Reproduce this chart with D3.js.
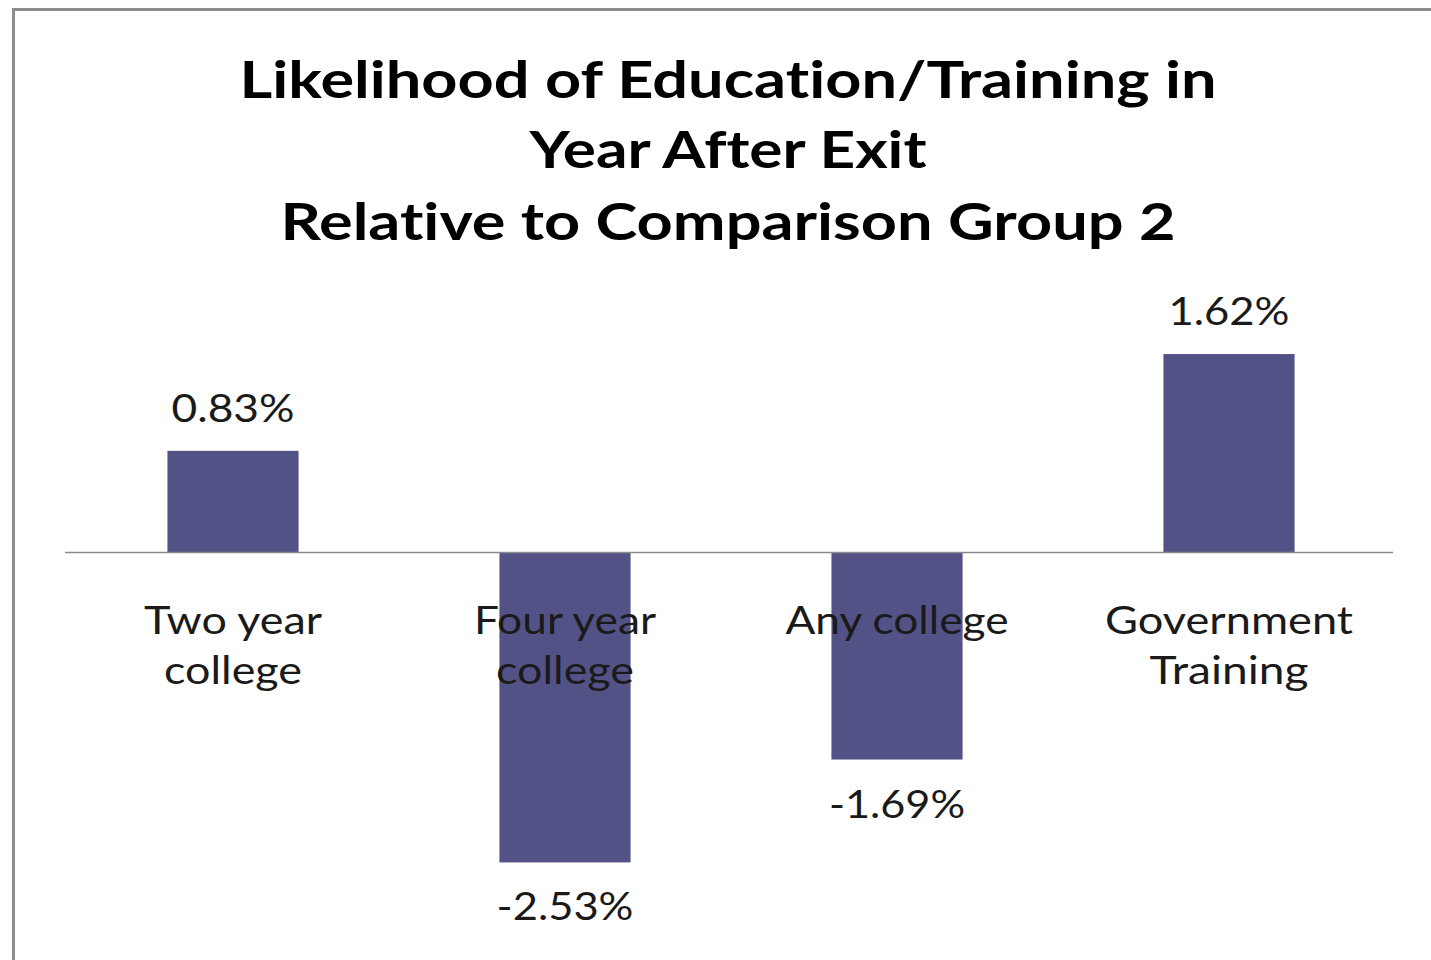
<!DOCTYPE html>
<html>
<head>
<meta charset="utf-8">
<script src="https://cdn.jsdelivr.net/npm/d3@7"></script>
<style>
  html, body { margin: 0; padding: 0; background: #fff; }
  svg { display: block; }
  text { font-variant-ligatures: none; }
</style>
</head>
<body>
<svg id="chart" width="1431" height="960"></svg>
<script>
// Chart data
const titleLines = [
  "Likelihood of Education/Training in",
  "Year After Exit",
  "Relative to Comparison Group 2"
];
const categories = ["Two year college", "Four year college", "Any college", "Government Training"];
const categoryLines = [
  ["Two year", "college"],
  ["Four year", "college"],
  ["Any college"],
  ["Government", "Training"]
];
const values = [0.83, -2.53, -1.69, 1.62];
const valueLabels = ["0.83%", "-2.53%", "-1.69%", "1.62%"];

const svg = d3.select("#chart");
const FONT = "Lato, 'Open Sans', 'DejaVu Sans', sans-serif";

// Outer chart-area frame
svg.append("rect")
  .attr("x", 13.5).attr("y", 9.5)
  .attr("width", 1440).attr("height", 980)
  .attr("fill", "#fff")
  .attr("stroke", "#8c8c8c")
  .attr("stroke-width", 3);

// Title
const titleBaselines = [98, 168, 240];
const titleWidths = [977, 397, 895];
svg.append("g").selectAll("text")
  .data(titleLines)
  .join("text")
  .attr("x", 728)
  .attr("y", (d, i) => titleBaselines[i])
  .attr("text-anchor", "middle")
  .attr("font-family", FONT)
  .attr("font-weight", "bold")
  .attr("font-size", 52)
  .attr("fill", "#000")
  .attr("textLength", (d, i) => titleWidths[i])
  .attr("lengthAdjust", "spacingAndGlyphs")
  .text(d => d);

// Scales
const x = d3.scaleBand()
  .domain(categories)
  .range([67, 1395])
  .paddingInner(0.605)
  .paddingOuter(0.3025);

const y = d3.scaleLinear()
  .domain([-3, 2])
  .range([920, 307.5]);

// Bars
svg.append("g").selectAll("rect")
  .data(values)
  .join("rect")
  .attr("x", (d, i) => x(categories[i]))
  .attr("y", d => y(Math.max(0, d)))
  .attr("width", x.bandwidth())
  .attr("height", d => Math.abs(y(d) - y(0)))
  .attr("fill", "#525287");

// Zero axis line
svg.append("line")
  .attr("x1", 65).attr("x2", 1393)
  .attr("y1", y(0)).attr("y2", y(0))
  .attr("stroke", "#8a8a8a")
  .attr("stroke-width", 1.5);

// Category labels
const catLineWidths = [[178, 138], [182, 138], [223], [248, 159]];
const catGroup = svg.append("g");
categories.forEach((c, i) => {
  const cx = x(c) + x.bandwidth() / 2;
  categoryLines[i].forEach((line, j) => {
    catGroup.append("text")
      .attr("x", cx)
      .attr("y", 634 + j * 50)
      .attr("text-anchor", "middle")
      .attr("font-family", FONT)
      .attr("font-size", 38)
      .attr("fill", "#1a1a1a")
      .attr("textLength", catLineWidths[i][j])
      .attr("lengthAdjust", "spacingAndGlyphs")
      .text(line);
  });
});

// Value labels
const valueWidths = [123, 137, 136, 121];
svg.append("g").selectAll("text")
  .data(values)
  .join("text")
  .attr("x", (d, i) => x(categories[i]) + x.bandwidth() / 2)
  .attr("y", d => d >= 0 ? y(d) - 29 : y(d) + 58)
  .attr("text-anchor", "middle")
  .attr("font-family", FONT)
  .attr("font-size", 38)
  .attr("fill", "#1a1a1a")
  .attr("textLength", (d, i) => valueWidths[i])
  .attr("lengthAdjust", "spacingAndGlyphs")
  .text((d, i) => valueLabels[i]);
</script>
</body>
</html>
